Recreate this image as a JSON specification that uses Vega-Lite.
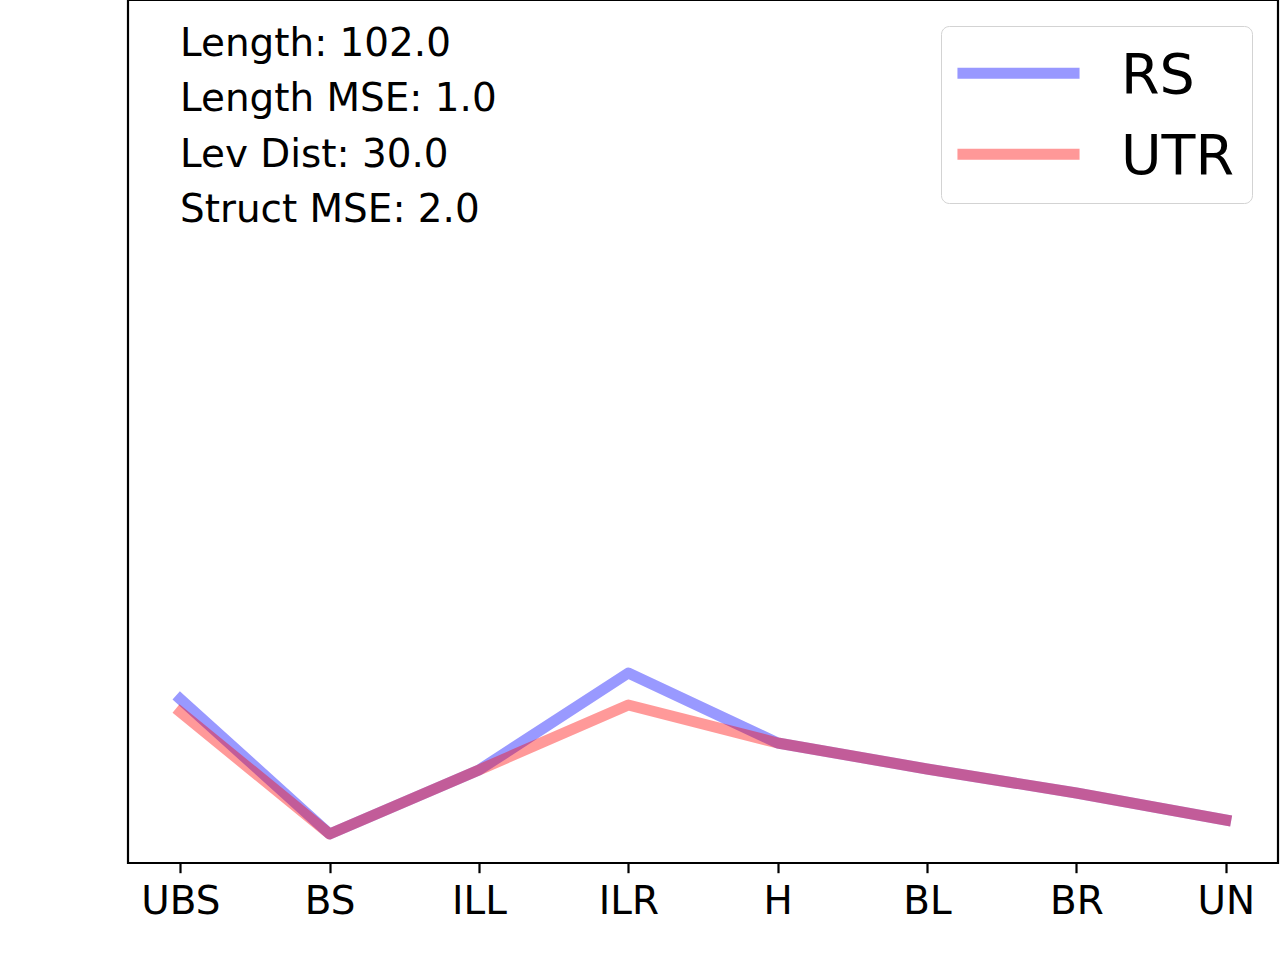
{
  "$schema": "https://vega.github.io/schema/vega-lite/v6.json",
  "autosize": "none",
  "width": 1150,
  "height": 863,
  "padding": {"left": 128, "top": 0, "right": 2, "bottom": 97},
  "background": "white",
  "data": {
    "values": [
      {"part": "UBS", "series": "RS", "value": 164},
      {"part": "BS", "series": "RS", "value": 29},
      {"part": "ILL", "series": "RS", "value": 93},
      {"part": "ILR", "series": "RS", "value": 190},
      {"part": "H", "series": "RS", "value": 120},
      {"part": "BL", "series": "RS", "value": 94},
      {"part": "BR", "series": "RS", "value": 70},
      {"part": "UN", "series": "RS", "value": 43},
      {"part": "UBS", "series": "UTR", "value": 151},
      {"part": "BS", "series": "UTR", "value": 29},
      {"part": "ILL", "series": "UTR", "value": 93},
      {"part": "ILR", "series": "UTR", "value": 158},
      {"part": "H", "series": "UTR", "value": 120},
      {"part": "BL", "series": "UTR", "value": 94},
      {"part": "BR", "series": "UTR", "value": 70},
      {"part": "UN", "series": "UTR", "value": 43}
    ]
  },
  "title": {
    "text": ["Length: 102.0", "Length MSE: 1.0", "Lev Dist: 30.0", "Struct MSE: 2.0"],
    "orient": "top",
    "anchor": "start",
    "frame": "group",
    "baseline": "alphabetic",
    "offset": -261,
    "dx": 52,
    "font": "DejaVu Sans",
    "fontSize": 38.9,
    "fontWeight": "normal",
    "lineHeight": 55.5,
    "color": "black"
  },
  "mark": {
    "type": "line",
    "strokeWidth": 11,
    "strokeCap": "square",
    "strokeJoin": "round",
    "opacity": 0.4
  },
  "encoding": {
    "x": {
      "field": "part",
      "type": "nominal",
      "sort": ["UBS", "BS", "ILL", "ILR", "H", "BL", "BR", "UN"],
      "scale": {"type": "point", "padding": 0.35},
      "axis": {
        "title": null,
        "labelAngle": 0,
        "domain": false,
        "grid": false,
        "labelFont": "DejaVu Sans",
        "labelFontSize": 38.9,
        "labelColor": "black",
        "labelPadding": 9.7,
        "tickSize": 9.7,
        "tickWidth": 2.2,
        "tickColor": "black"
      }
    },
    "y": {
      "field": "value",
      "type": "quantitative",
      "scale": {"domain": [0, 863], "nice": false, "zero": false},
      "axis": null
    },
    "color": {
      "field": "series",
      "type": "nominal",
      "scale": {"domain": ["RS", "UTR"], "range": ["blue", "red"]},
      "legend": {
        "title": null,
        "orient": "top-right",
        "offset": 26,
        "padding": 17,
        "fillColor": "white",
        "strokeColor": "#d3d3d3",
        "cornerRadius": 8,
        "symbolType": "M-1.22,-0.1H3.22",
        "symbolSize": 3025,
        "symbolStrokeWidth": 11,
        "symbolOpacity": 0.4,
        "labelFont": "DejaVu Sans",
        "labelFontSize": 55.5,
        "labelColor": "black",
        "labelOffset": 97,
        "rowPadding": 19
      }
    }
  },
  "config": {
    "view": {"stroke": "black", "strokeWidth": 2.2}
  }
}
